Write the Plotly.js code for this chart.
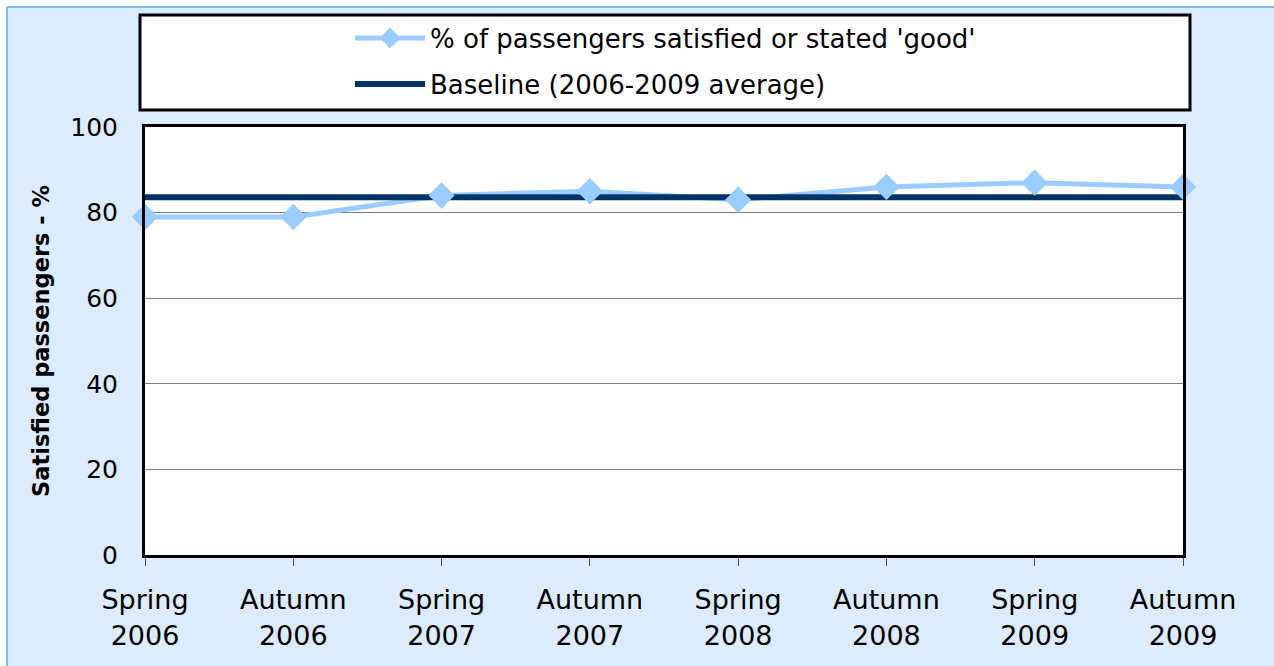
<!DOCTYPE html>
<html>
<head>
<meta charset="utf-8">
<script src="https://cdn.plot.ly/plotly-3.0.1.min.js"></script>
<style>
  html, body { margin: 0; padding: 0; background: #ffffff; }
  #chart { width: 1274px; height: 666px; }
</style>
</head>
<body>
<div id="chart"></div>
<script>
// ---- data ----
const categories = ["Spring<br>2006", "Autumn<br>2006", "Spring<br>2007", "Autumn<br>2007",
                    "Spring<br>2008", "Autumn<br>2008", "Spring<br>2009", "Autumn<br>2009"];
const satisfied = [79, 79, 84, 85, 83, 86, 87, 86];
const baseline = [83.6, 83.6, 83.6, 83.6, 83.6, 83.6, 83.6, 83.6];
const seriesNames = ["% of passengers satisfied or stated 'good'", "Baseline (2006-2009 average)"];
const yTicks = [0, 20, 40, 60, 80, 100];

// ---- layout helpers (pixel -> paper) ----
const W = 1274, H = 666;
const L = 145, R = 1183, T = 127, B = 555;
const px = x => (x - L) / (R - L);
const py = y => (B - y) / (B - T);

const FONT = "DejaVu Sans";
const lightBlue = "#99CCFF";
const darkBlue = "#003366";

const traces = [
  {
    x: categories, y: satisfied, name: seriesNames[0], type: "scatter", mode: "lines+markers",
    line: { color: lightBlue, width: 5 },
    marker: { symbol: "diamond", size: 20, color: lightBlue },
    legend: "legend", cliponaxis: false
  },
  {
    x: categories, y: baseline, name: seriesNames[1], type: "scatter", mode: "lines",
    line: { color: darkBlue, width: 6 },
    legend: "legend2", cliponaxis: false
  },
  {
    x: categories, y: satisfied, name: seriesNames[0], type: "scatter", mode: "markers",
    marker: { symbol: "diamond", size: 20, color: lightBlue },
    showlegend: false, cliponaxis: false, hoverinfo: "skip"
  }
];

const legendCommon = {
  xanchor: "left", yanchor: "middle", bgcolor: "rgba(0,0,0,0)", borderwidth: 0,
  font: { family: FONT, size: 26, color: "#000" }, itemwidth: 70
};

const layout = {
  width: W, height: H,
  margin: { l: L, r: W - R, t: T, b: H - B, pad: 0 },
  paper_bgcolor: "#DCEBFD",
  plot_bgcolor: "#FFFFFF",
  showlegend: true,
  legend: Object.assign({}, legendCommon, { x: px(350), y: py(38) }),
  legend2: Object.assign({}, legendCommon, { x: px(350), y: py(84) }),
  xaxis: {
    type: "category",
    range: [0, 7],
    showgrid: false, zeroline: false,
    showline: true, linecolor: "#000", linewidth: 3, mirror: true,
    ticks: "outside", ticklen: 8, tickwidth: 1, tickcolor: "#444",
    ticklabelstandoff: 11,
    tickfont: { family: FONT, size: 27, color: "#000" }
  },
  yaxis: {
    range: [0, 100],
    tickvals: yTicks,
    showgrid: true, gridcolor: "#808080", gridwidth: 1, zeroline: false,
    showline: true, linecolor: "#000", linewidth: 3, mirror: true,
    ticks: "", ticklabelstandoff: 19,
    tickfont: { family: FONT, size: 25, color: "#000" },
    title: { text: "Satisfied passengers - %", font: { family: FONT, size: 22.5, color: "#000", weight: "bold" }, standoff: 15 }
  },
  shapes: [
    // white margin outside the outer frame
    { type: "rect", xref: "paper", yref: "paper", x0: px(-20), x1: px(1300), y0: py(6.5), y1: py(-20),
      fillcolor: "#FFFFFF", line: { width: 0 }, layer: "below" },
    { type: "rect", xref: "paper", yref: "paper", x0: px(-20), x1: px(6.5), y0: py(700), y1: py(-20),
      fillcolor: "#FFFFFF", line: { width: 0 }, layer: "below" },
    // outer frame lines (top and left)
    { type: "line", xref: "paper", yref: "paper", x0: px(7), x1: px(1300), y0: py(7), y1: py(7),
      line: { color: "#74C2E8", width: 2 }, layer: "below" },
    { type: "line", xref: "paper", yref: "paper", x0: px(7), x1: px(7), y0: py(7), y1: py(700),
      line: { color: "#74C2E8", width: 2 }, layer: "below" },
    // legend box
    { type: "rect", xref: "paper", yref: "paper", x0: px(140), x1: px(1190), y0: py(110), y1: py(15),
      fillcolor: "#FFFFFF", line: { color: "#000", width: 3 }, layer: "below" }
  ]
};

Plotly.newPlot("chart", traces, layout, { displayModeBar: false, staticPlot: true });
</script>
</body>
</html>
